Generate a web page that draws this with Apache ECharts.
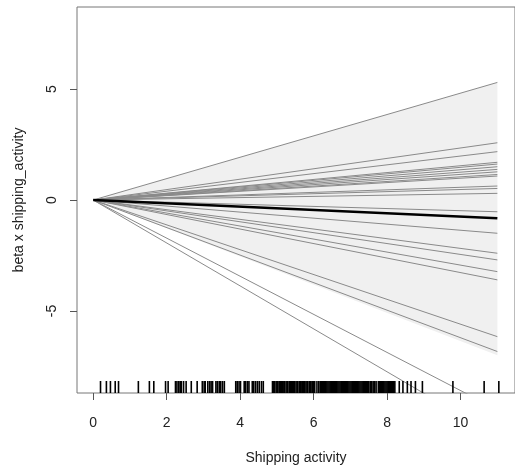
<!DOCTYPE html>
<html>
<head>
<meta charset="utf-8">
<script src="https://cdn.jsdelivr.net/npm/echarts@6/dist/echarts.min.js"></script>
<style>html,body{margin:0;padding:0;background:#fff;}#c{width:515px;height:472px;}</style>
</head>
<body>
<div id="c"></div>
<script>
// x extent of the fitted lines
var lineX = [0, 11];
// values at x = 11 of the individual gray lines (each starts at 0,0)
var grayLineEnds = [5.3, 2.58, 2.18, 1.7, 1.62, 1.5, 1.38, 1.27, 1.15, 1.08, 0.63, 0.52, 0.3,
  -0.53, -1.5, -2.4, -2.7, -3.23, -3.6, -6.16, -6.83, -9.45, -10.65];
// value at x = 11 of the mean (thick black) line
var meanLineEnd = -0.82;
// shaded band: upper and lower values at lineX
var bandUpper = [0, 5.3];
var bandLower = [0, -7.0];
// rug of observed shipping activity
var rugX = [0.2, 0.36, 0.47, 0.6, 0.69, 1.23, 1.53, 1.65, 1.97, 2.04, 2.24, 2.28, 2.33, 2.37, 2.4, 2.46, 2.53,
  2.67, 2.83, 2.97, 3.02, 3.05, 3.12, 3.17, 3.21, 3.25, 3.34, 3.38, 3.43, 3.47, 3.52, 3.57,
  3.88, 3.92, 3.97, 4.01, 4.11, 4.15, 4.2, 4.24, 4.33, 4.37, 4.42, 4.47, 4.52, 4.58, 4.63,
  4.88, 4.91, 4.94, 4.98, 5.01, 5.03, 5.07, 5.1, 5.12, 5.16, 5.19, 5.21, 5.25, 5.28, 5.3, 5.34, 5.37,
  5.39, 5.43, 5.46, 5.48, 5.52, 5.55, 5.57, 5.61, 5.64, 5.66, 5.7, 5.73, 5.75, 5.79, 5.82, 5.84, 5.88,
  5.91, 5.93, 5.97, 6.0, 6.03, 6.09, 6.14, 6.18, 6.21, 6.24, 6.27, 6.3, 6.33, 6.36, 6.39, 6.42, 6.45,
  6.48, 6.51, 6.54, 6.57, 6.6, 6.63, 6.66, 6.69, 6.72, 6.75, 6.78, 6.81, 6.84, 6.87, 6.9, 6.93, 6.96,
  6.99, 7.02, 7.05, 7.08, 7.11, 7.14, 7.17, 7.2, 7.23, 7.26, 7.29, 7.32, 7.35, 7.38, 7.41, 7.44, 7.47,
  7.5, 7.54, 7.58, 7.62, 7.66, 7.7, 7.76, 7.79, 7.82, 7.85, 7.88, 7.91, 7.94, 7.97, 8.0, 8.03, 8.06,
  8.09, 8.12, 8.15, 8.18, 8.21, 8.33, 8.43, 8.55, 8.65, 8.77, 8.96, 9.79, 10.64, 11.04];
// tick labels
var xTicks = [0, 2, 4, 6, 8, 10];
var yTicks = [-5, 0, 5];

var FONT = '"Liberation Sans", Arial, sans-serif';
var TXT = '#222';

var series = [];
series.push({
  type: 'custom',
  z: 1,
  silent: true,
  data: [0],
  renderItem: function (params, api) {
    var pts = [];
    for (var i = 0; i < lineX.length; i++) pts.push(api.coord([lineX[i], bandUpper[i]]));
    for (var j = lineX.length - 1; j >= 0; j--) pts.push(api.coord([lineX[j], bandLower[j]]));
    return { type: 'polygon', shape: { points: pts }, style: { fill: '#f0f0f0', stroke: null } };
  }
});
grayLineEnds.forEach(function (v) {
  series.push({
    type: 'line', z: 2, silent: true, symbol: 'none',
    data: [[lineX[0], 0], [lineX[1], v]],
    lineStyle: { color: '#8a8a8a', width: 1 }
  });
});
series.push({
  type: 'line', z: 3, silent: true, symbol: 'none',
  data: [[lineX[0], 0], [lineX[1], meanLineEnd]],
  lineStyle: { color: '#000', width: 2.5 }
});
series.push({
  type: 'custom', z: 4, silent: true,
  data: rugX.map(function (x) { return [x]; }),
  renderItem: function (params, api) {
    var p = api.coord([api.value(0), -8.7]);
    return { type: 'line', shape: { x1: p[0], y1: p[1], x2: p[0], y2: p[1] - 12 },
      style: { stroke: '#000', lineWidth: 1.6 } };
  }
});

var chart = echarts.init(document.getElementById('c'), null, { renderer: 'canvas' });
chart.setOption({
  animation: false,
  backgroundColor: '#fff',
  grid: { left: 77, top: 7, width: 442, height: 386, show: true, borderColor: '#777', borderWidth: 1, backgroundColor: 'transparent' },
  xAxis: {
    type: 'value', min: -0.44, max: 11.48, position: 'bottom',
    name: 'Shipping activity', nameLocation: 'middle', nameGap: 58,
    nameTextStyle: { fontFamily: FONT, fontSize: 14, color: TXT },
    axisLine: { show: false, onZero: false },
    splitLine: { show: false },
    axisTick: { show: true, inside: false, length: 7, lineStyle: { color: '#555' }, customValues: xTicks },
    axisLabel: { customValues: xTicks, margin: 23, fontFamily: FONT, fontSize: 14, color: TXT }
  },
  yAxis: {
    type: 'value', min: -8.7, max: 8.7, position: 'left',
    name: 'beta x shipping_activity', nameLocation: 'middle', nameGap: 51, nameRotate: 90,
    nameTextStyle: { fontFamily: FONT, fontSize: 14, color: TXT },
    axisLine: { show: false, onZero: false },
    splitLine: { show: false },
    axisTick: { show: true, inside: false, length: 7, lineStyle: { color: '#555' }, customValues: yTicks },
    axisLabel: { customValues: yTicks, rotate: 90, margin: 18, fontFamily: FONT, fontSize: 14, color: TXT }
  },
  series: series
});
</script>
</body>
</html>
